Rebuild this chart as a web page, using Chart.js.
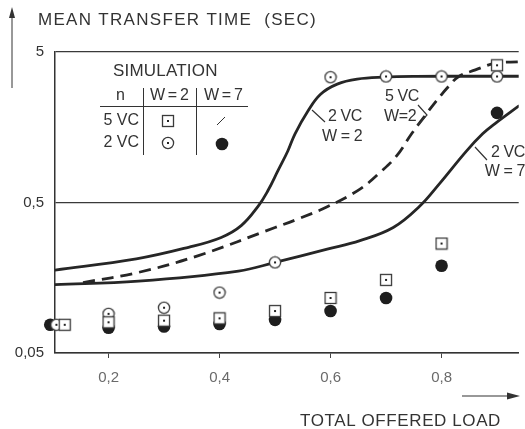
<!DOCTYPE html>
<html>
<head>
<meta charset="utf-8">
<script src="https://cdn.jsdelivr.net/npm/chart.js@4.4.1/dist/chart.umd.min.js"></script>
<style>
  html, body { margin: 0; padding: 0; background: #fff; }
</style>
</head>
<body>
<canvas id="chart" width="525" height="429"></canvas>
<script>
// axis ticks
const loadTicks = [0.2, 0.4, 0.6, 0.8];
const timeTicks = [0.05, 0.5, 5];

// analytic curves
const vc2w2Load = [0.1, 0.25, 0.344, 0.403, 0.439, 0.47, 0.487, 0.505, 0.523, 0.536, 0.559, 0.582, 0.612, 0.648, 0.696, 0.754, 0.854, 0.94];
const vc2w2Time = [0.177, 0.211, 0.252, 0.293, 0.351, 0.475, 0.598, 0.81, 1.1, 1.43, 2.02, 2.62, 3.06, 3.3, 3.4, 3.44, 3.45, 3.45];

const vc5w2Load = [0.154, 0.255, 0.362, 0.5, 0.546, 0.594, 0.653, 0.692, 0.719, 0.746, 0.767, 0.79, 0.813, 0.831, 0.861, 0.897, 0.94];
const vc5w2Time = [0.147, 0.172, 0.222, 0.341, 0.395, 0.468, 0.614, 0.81, 1.02, 1.43, 1.82, 2.35, 2.96, 3.44, 3.8, 4.21, 4.3];

const vc2w7Load = [0.1, 0.254, 0.434, 0.5, 0.594, 0.653, 0.713, 0.76, 0.796, 0.844, 0.874, 0.897, 0.94];
const vc2w7Time = [0.142, 0.15, 0.175, 0.2, 0.245, 0.279, 0.341, 0.47, 0.665, 1.09, 1.43, 1.68, 2.2];

// simulation points
const simSquareLoad = [0.121, 0.2, 0.3, 0.4, 0.5, 0.6, 0.7, 0.8, 0.9];
const simSquareTime = [0.077, 0.08, 0.082, 0.085, 0.095, 0.116, 0.153, 0.267, 4.08];
const simCircleLoad = [0.106, 0.2, 0.3, 0.4, 0.5, 0.6, 0.7, 0.8, 0.9];
const simCircleTime = [0.077, 0.091, 0.1, 0.126, 0.2, 3.4, 3.44, 3.44, 3.44];
const simDotLoad = [0.095, 0.2, 0.3, 0.4, 0.5, 0.6, 0.7, 0.8, 0.9];
const simDotTime = [0.077, 0.0736, 0.075, 0.078, 0.083, 0.095, 0.116, 0.19, 1.97];

const ink = '#262626';
const fontFamily = '"Liberation Sans", Arial, sans-serif';

function toPoints(xs, ys) {
    return xs.map((x, i) => ({ x: x, y: ys[i] }));
}

// small white marker with a dot in the middle
function makeMarker(kind) {
    const c = document.createElement('canvas');
    c.width = 14;
    c.height = 14;
    const g = c.getContext('2d');
    g.fillStyle = '#fff';
    g.strokeStyle = '#3a3a3a';
    g.lineWidth = 1.3;
    if (kind === 'square') {
        g.fillRect(1.5, 1.5, 11, 11);
        g.strokeRect(1.5, 1.5, 11, 11);
    } else {
        g.beginPath();
        g.arc(7, 7, 5.6, 0, 2 * Math.PI);
        g.fill();
        g.stroke();
    }
    g.fillStyle = '#222';
    g.fillRect(6, 6, 2, 2);
    return c;
}

const squareMarker = makeMarker('square');
const circleMarker = makeMarker('circle');

function curve(label, xs, ys, dash) {
    return {
        label: label,
        data: toPoints(xs, ys),
        showLine: true,
        borderColor: ink,
        borderWidth: 2.8,
        borderDash: dash || [],
        pointRadius: 0,
        tension: 0.4,
        fill: false
    };
}

// labels, arrows and the little simulation table
const paperNotes = {
    id: 'paperNotes',
    afterDraw(chart) {
        const ctx = chart.ctx;
        ctx.save();
        ctx.fillStyle = '#333';
        ctx.strokeStyle = '#333';
        ctx.textBaseline = 'middle';

        // y axis title + arrow
        ctx.font = '17px ' + fontFamily;
        ctx.letterSpacing = '1.3px';
        ctx.fillText('MEAN TRANSFER TIME  (SEC)', 38, 20);
        ctx.lineWidth = 1;
        ctx.beginPath();
        ctx.moveTo(12, 88);
        ctx.lineTo(12, 14);
        ctx.stroke();
        ctx.beginPath();
        ctx.moveTo(12, 7);
        ctx.lineTo(9, 18);
        ctx.lineTo(15, 18);
        ctx.closePath();
        ctx.fill();

        // x axis title + arrow
        ctx.letterSpacing = '0.6px';
        ctx.fillText('TOTAL OFFERED LOAD', 300, 421);
        ctx.lineWidth = 1.2;
        ctx.beginPath();
        ctx.moveTo(462, 396);
        ctx.lineTo(510, 396);
        ctx.stroke();
        ctx.beginPath();
        ctx.moveTo(520, 396);
        ctx.lineTo(507, 392.5);
        ctx.lineTo(507, 399.5);
        ctx.closePath();
        ctx.fill();

        // simulation table
        ctx.letterSpacing = '0.2px';
        ctx.fillText('SIMULATION', 113, 71);
        ctx.font = '16px ' + fontFamily;
        ctx.letterSpacing = '-0.8px';
        ctx.textAlign = 'center';
        ctx.fillText('n', 120, 96);
        ctx.fillText('W = 2', 169, 96);
        ctx.fillText('W = 7', 223, 96);
        ctx.letterSpacing = '0px';
        ctx.textAlign = 'right';
        ctx.fillText('5 VC', 139, 121);
        ctx.fillText('2 VC', 139, 143);
        ctx.lineWidth = 1;
        ctx.beginPath();
        ctx.moveTo(100, 106.5);
        ctx.lineTo(248, 106.5);
        ctx.moveTo(143.5, 88);
        ctx.lineTo(143.5, 155);
        ctx.moveTo(196.5, 88);
        ctx.lineTo(196.5, 155);
        ctx.stroke();
        ctx.drawImage(squareMarker, 161, 114);
        ctx.drawImage(circleMarker, 161, 136);
        ctx.beginPath();
        ctx.moveTo(217, 125);
        ctx.lineTo(225, 117);
        ctx.stroke();
        ctx.fillStyle = '#1e1e1e';
        ctx.beginPath();
        ctx.arc(222, 144, 6.3, 0, 2 * Math.PI);
        ctx.fill();

        // curve annotations
        ctx.fillStyle = '#333';
        ctx.textAlign = 'left';
        ctx.letterSpacing = '-0.4px';
        ctx.fillText('2 VC', 328, 117);
        ctx.fillText('W = 2', 322, 137);
        ctx.fillText('5 VC', 385, 97);
        ctx.fillText('W=2', 384, 117);
        ctx.textAlign = 'right';
        ctx.fillText('2 VC', 525, 153);
        ctx.fillText('W = 7', 525, 172);
        ctx.lineWidth = 1.2;
        ctx.beginPath();
        ctx.moveTo(312, 110);
        ctx.lineTo(325, 122);
        ctx.moveTo(418, 105);
        ctx.lineTo(427, 115);
        ctx.lineTo(418, 125);
        ctx.moveTo(475, 147);
        ctx.lineTo(487, 160);
        ctx.stroke();
        ctx.restore();
    }
};

new Chart(document.getElementById('chart'), {
    type: 'scatter',
    data: {
        datasets: [
            {
                label: '5 VC, W = 2',
                data: toPoints(simSquareLoad, simSquareTime),
                pointStyle: squareMarker,
                clip: false
            },
            {
                label: '2 VC, W = 2',
                data: toPoints(simCircleLoad, simCircleTime),
                pointStyle: circleMarker,
                clip: false
            },
            {
                label: '2 VC, W = 7',
                data: toPoints(simDotLoad, simDotTime),
                pointStyle: 'circle',
                pointRadius: 6.3,
                backgroundColor: '#1e1e1e',
                borderColor: '#1e1e1e',
                borderWidth: 0,
                clip: false
            },
            curve('2 VC W = 2', vc2w2Load, vc2w2Time),
            curve('5 VC W = 2', vc5w2Load, vc5w2Time, [12, 7]),
            curve('2 VC W = 7', vc2w7Load, vc2w7Time)
        ]
    },
    options: {
        responsive: false,
        animation: false,
        layout: { padding: { top: 52, right: 2, left: 0, bottom: 0 } },
        plugins: {
            legend: { display: false },
            title: { display: false },
            tooltip: { enabled: false }
        },
        scales: {
            x: {
                type: 'linear',
                min: 0.1035,
                max: 0.939,
                afterBuildTicks: s => { s.ticks = loadTicks.map(v => ({ value: v })); },
                afterFit: s => { s.height = 76; },
                ticks: {
                    callback: v => v.toFixed(1).replace('.', ','),
                    color: '#6a6a6a',
                    font: { family: fontFamily, size: 15 },
                    padding: 11
                },
                grid: { drawOnChartArea: false, drawTicks: true, tickLength: 5, color: '#444' },
                border: { display: true, color: '#333', width: 1.5 }
            },
            y: {
                type: 'logarithmic',
                min: 0.05,
                max: 5,
                afterBuildTicks: s => { s.ticks = timeTicks.map(v => ({ value: v })); },
                afterFit: s => { s.width = 55; },
                ticks: {
                    callback: v => String(v).replace('.', ','),
                    color: '#333',
                    font: { family: fontFamily, size: 15 },
                    padding: 11
                },
                grid: { drawTicks: false, color: '#3a3a3a', lineWidth: 1.3 },
                border: { display: true, color: '#333', width: 1.5 }
            }
        }
    },
    plugins: [paperNotes]
});
</script>
</body>
</html>
